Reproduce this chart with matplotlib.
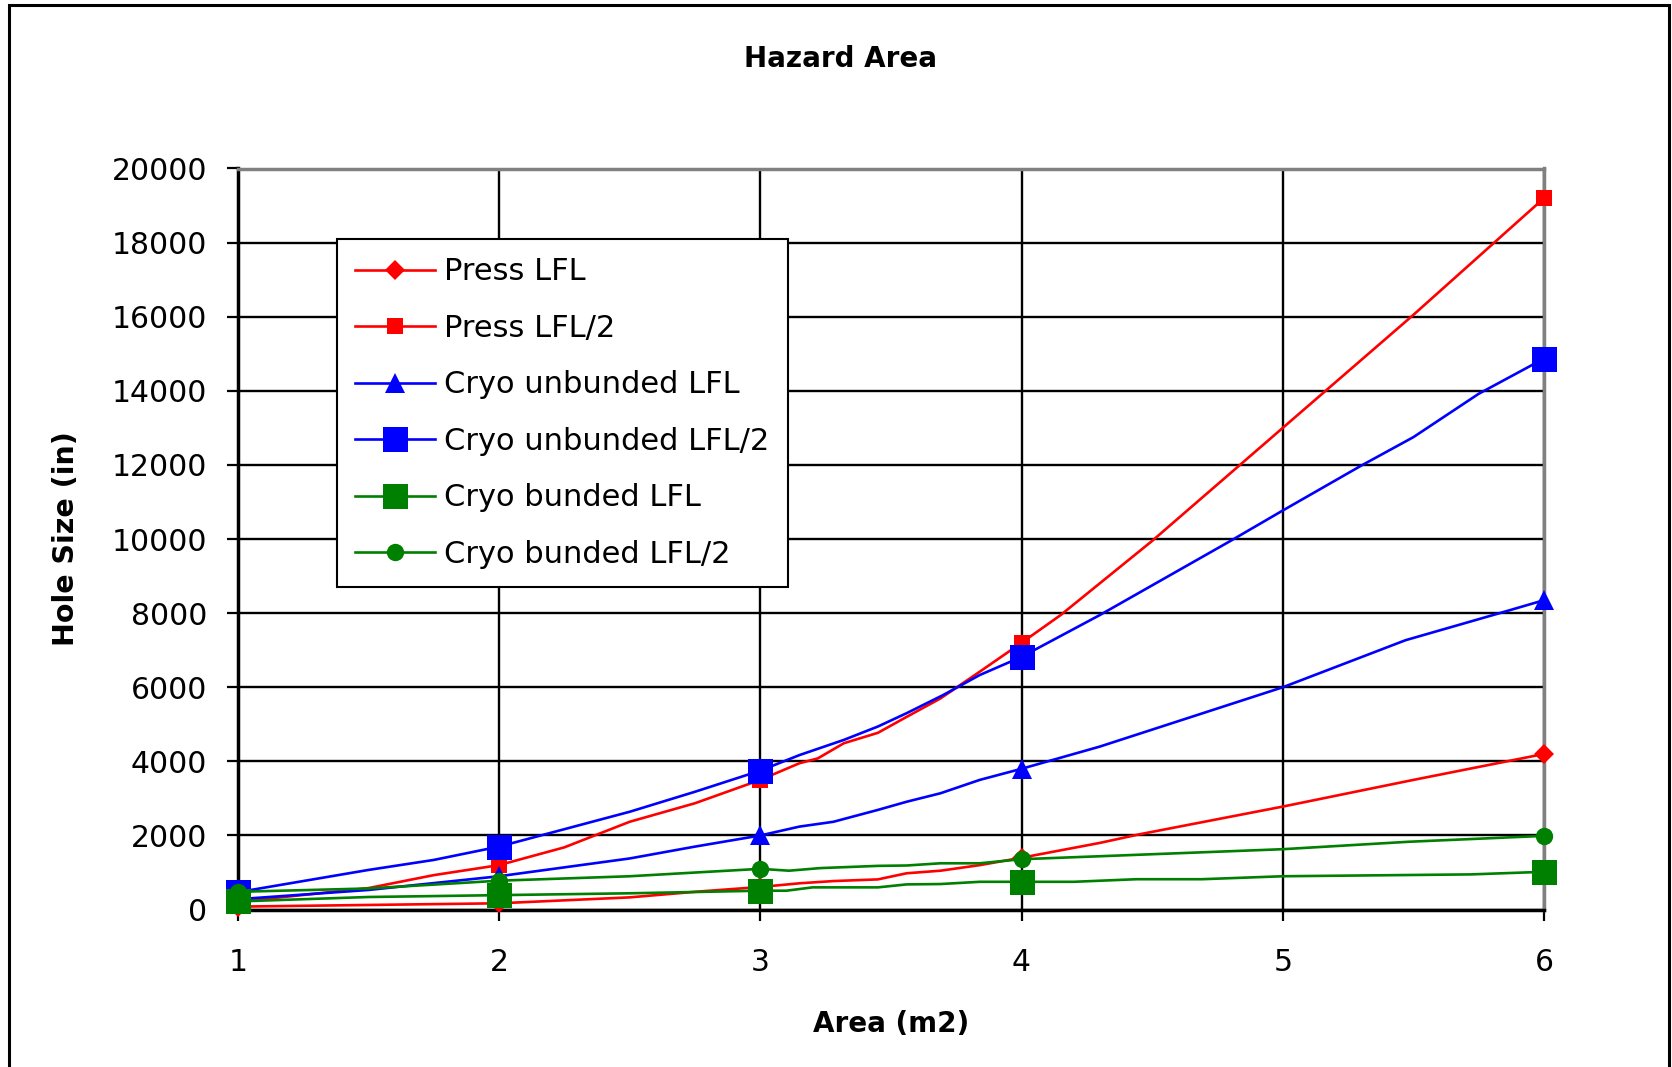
import matplotlib.pyplot as plt
from matplotlib.patches import Rectangle

# markers only sit on these x positions
MARKER_X = [1, 2, 3, 4, 6]

press_lfl_x = [1, 1.5, 2, 2.5, 2.75, 3, 3.15, 3.28, 3.45, 3.56, 3.69, 3.84, 4, 4.3, 4.45, 5, 5.5, 6]
press_lfl_y = [80, 125, 170, 330, 480, 610, 710, 770, 815, 980, 1050, 1200, 1400, 1800, 2030, 2780, 3500, 4200]

press_lfl2_x = [1, 1.5, 1.75, 2, 2.25, 2.5, 2.75, 3, 3.15, 3.22, 3.32, 3.45, 3.56, 3.69, 3.84, 4, 4.15, 4.5, 5, 5.5, 6]
press_lfl2_y = [210, 580, 930, 1200, 1680, 2370, 2870, 3500, 3950, 4080, 4490, 4770, 5200, 5700, 6420, 7200,
                7950, 9950, 13000, 16050, 19200]

cryo_unb_lfl_x = [1, 1.5, 2, 2.5, 2.75, 3, 3.15, 3.28, 3.45, 3.56, 3.69, 3.84, 4, 4.3, 5, 5.47, 5.83, 6]
cryo_unb_lfl_y = [280, 530, 900, 1380, 1700, 2000, 2240, 2370, 2690, 2910, 3140, 3500, 3800, 4400, 6000, 7270,
                  8000, 8350]

cryo_unb_lfl2_x = [1, 1.5, 1.75, 2, 2.5, 2.75, 3, 3.15, 3.32, 3.45, 3.56, 3.7, 3.84, 4, 4.3, 4.8, 5, 5.3, 5.5,
                   5.75, 6]
cryo_unb_lfl2_y = [470, 1070, 1340, 1700, 2640, 3180, 3750, 4170, 4580, 4940, 5300, 5790, 6330, 6820, 7950, 9950,
                   10770, 11980, 12750, 13920, 14870]

cryo_b_lfl_x = [1, 1.5, 2, 2.5, 3, 3.1, 3.2, 3.28, 3.45, 3.56, 3.69, 3.84, 4, 4.2, 4.44, 4.69, 5, 5.72, 6]
cryo_b_lfl_y = [220, 340, 390, 440, 510, 510, 600, 600, 600, 680, 690, 750, 750, 750, 820, 820, 900, 950, 1020]

cryo_b_lfl2_x = [1, 1.5, 2, 2.5, 3, 3.11, 3.23, 3.45, 3.56, 3.69, 3.84, 4, 4.3, 5, 5.48, 6]
cryo_b_lfl2_y = [480, 570, 780, 900, 1100, 1050, 1120, 1180, 1190, 1250, 1250, 1360, 1440, 1630, 1830, 1990]

SERIES = [
    ("Press LFL", press_lfl_x, press_lfl_y, "#FF0000", "D", 10),
    ("Press LFL/2", press_lfl2_x, press_lfl2_y, "#FF0000", "s", 11.5),
    ("Cryo unbunded LFL", cryo_unb_lfl_x, cryo_unb_lfl_y, "#0000FF", "^", 14),
    ("Cryo unbunded LFL/2", cryo_unb_lfl2_x, cryo_unb_lfl2_y, "#0000FF", "s", 18),
    ("Cryo bunded LFL", cryo_b_lfl_x, cryo_b_lfl_y, "#008000", "s", 18),
    ("Cryo bunded LFL/2", cryo_b_lfl2_x, cryo_b_lfl2_y, "#008000", "o", 12.5),
]

fig = plt.figure(figsize=(16.72, 10.67), dpi=100)
ax = fig.add_axes([237.8 / 1672, 1 - 909.6 / 1067, (1544 - 237.8) / 1672, (909.6 - 168.5) / 1067])

for name, xs, ys, color, marker, ms in SERIES:
    idx = [i for i, x in enumerate(xs) if x in MARKER_X]
    ax.plot(xs, ys, color=color, lw=1.9, marker=marker, markersize=ms, markevery=idx,
            markeredgewidth=0, label=name, clip_on=False, zorder=3)

ax.set_xlim(1, 6)
ax.set_ylim(0, 20000)
ax.set_xticks(range(1, 7))
ax.set_yticks(range(0, 20001, 2000))
ax.grid(True, color="black", lw=1.7, zorder=1)
ax.set_axisbelow(True)
ax.tick_params(axis="both", direction="out", length=8, width=1.6, labelsize=21.5, colors="black")
ax.tick_params(axis="x", pad=20)
ax.tick_params(axis="y", pad=14)

for side in ("top", "right"):
    ax.spines[side].set_color("#808080")
    ax.spines[side].set_linewidth(2.5)
for side in ("left", "bottom"):
    ax.spines[side].set_color("black")
    ax.spines[side].set_linewidth(2.5)

ax.set_xlabel("Area (m2)", fontsize=20, fontweight="bold", va="center")
ax.set_ylabel("Hole Size (in)", fontsize=20.5, fontweight="bold", va="center")
ax.xaxis.set_label_coords(0.5, (909.6 - 1024) / 741.1)
ax.yaxis.set_label_coords((66 - 237.8) / 1306.2, 0.5)

fig.text(841 / 1672, 1 - 58.6 / 1067, "Hazard Area", ha="center", va="center",
         fontsize=20, fontweight="bold")

leg = ax.legend(loc="upper left", bbox_to_anchor=(337 / 1672, 1 - 239 / 1067),
                bbox_transform=fig.transFigure, fontsize=22, frameon=True, fancybox=False,
                framealpha=1, edgecolor="black", handlelength=2.6, handletextpad=0.3,
                labelspacing=0.9, borderpad=0.6, borderaxespad=0, numpoints=1)
leg.get_frame().set_linewidth(1.5)

# chart-area border
fig.patches.append(Rectangle((8.5 / 1672, -0.01), (1669 - 8.5) / 1672, 1.01 - 5 / 1067,
                             transform=fig.transFigure, fill=False, edgecolor="black", lw=2.2))

fig.savefig("out.png", dpi=100)
